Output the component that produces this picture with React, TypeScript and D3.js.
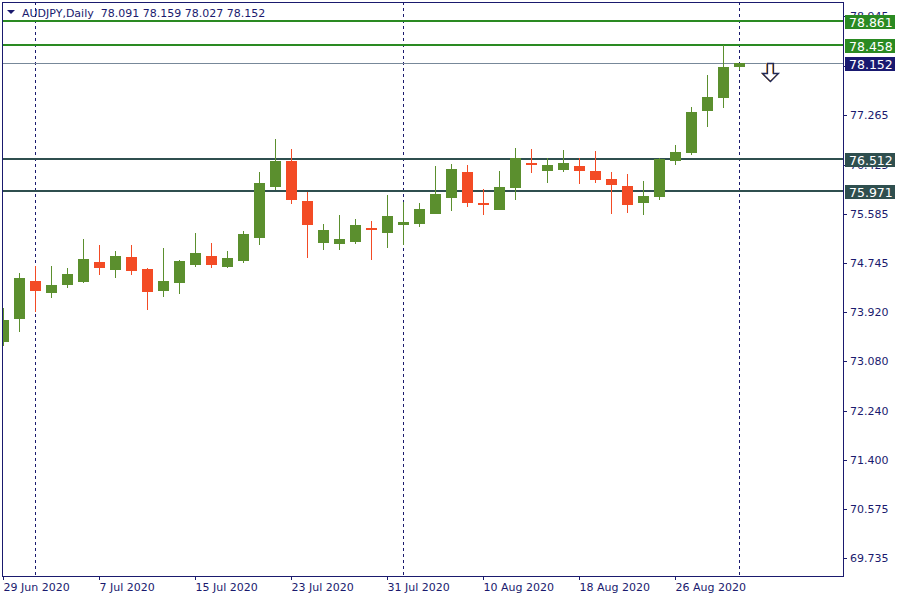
import React from "react";
import * as d3 from "d3";

const opens = [73.41,73.80,74.45,74.25,74.38,74.43,74.77,74.64,74.85,74.65,74.28,74.42,74.72,74.87,74.69,74.79,75.18,76.05,76.49,75.81,75.10,75.08,75.11,75.34,75.27,75.39,75.42,75.59,75.86,76.30,75.77,75.66,76.02,76.45,76.32,76.34,76.40,76.32,76.18,76.06,75.78,75.88,76.49,76.63,77.34,77.56,78.091];
const highs = [73.99,74.58,74.70,74.70,74.67,75.16,75.06,74.96,75.06,74.67,75.01,74.80,75.26,75.09,74.96,75.30,76.30,76.86,76.69,75.96,75.42,75.57,75.50,75.47,75.91,75.79,75.77,76.40,76.44,76.42,76.01,76.32,76.71,76.69,76.54,76.67,76.54,76.66,76.30,76.27,76.15,76.54,76.76,77.40,77.95,78.458,78.159];
const lows = [73.34,73.58,73.91,74.16,74.32,74.41,74.54,74.49,74.55,73.96,74.18,74.23,74.69,74.67,74.67,74.76,75.06,76.00,75.76,74.84,74.98,74.98,75.08,74.81,75.00,75.06,75.37,75.58,75.64,75.71,75.57,75.65,75.83,76.29,76.12,76.30,76.10,76.12,75.59,75.61,75.56,75.83,76.41,76.58,77.07,77.38,78.027];
const closes = [73.78,74.50,74.28,74.38,74.57,74.82,74.66,74.87,74.62,74.26,74.45,74.79,74.92,74.72,74.84,75.25,76.11,76.49,75.83,75.39,75.31,75.16,75.40,75.32,75.55,75.45,75.67,75.93,76.35,75.78,75.73,76.04,76.54,76.41,76.42,76.45,76.32,76.17,76.07,75.74,75.89,76.52,76.64,77.32,77.58,78.091,78.152];

const xTickIndex = [0, 6, 12, 18, 24, 30, 36, 42];
const xTickLabels = ["29 Jun 2020","7 Jul 2020","15 Jul 2020","23 Jul 2020","31 Jul 2020","10 Aug 2020","18 Aug 2020","26 Aug 2020"];
const separatorIndex = [2, 25, 46];
const yTicks = [69.735,70.575,71.400,72.240,73.080,73.920,74.745,75.585,76.425,77.265,78.105,78.945];
const levelValues = [78.861, 78.458, 78.152, 76.512, 75.971];
const levelLabels = ["78.861", "78.458", "78.152", "76.512", "75.971"];
const levelKinds = ["resist", "resist", "price", "support", "support"];
const title = "AUDJPY,Daily  78.091 78.159 78.027 78.152";

const LEFT = 2, RIGHT = 843, TOP = 2, BOTTOM = 576;
const NAVY = "#1a1a6e";
const BULL = "#5b8f2e";
const BEAR = "#f34b25";
const FONT = "'DejaVu Sans', Verdana, sans-serif";

const kindStyle: Record<string, { line: string; width: number; box: string }> = {
  resist: { line: "#2a8a22", width: 2, box: "#2a8a22" },
  price: { line: "#778899", width: 1, box: "#191970" },
  support: { line: "#2f4f4f", width: 2, box: "#2f4f4f" },
};

export default function App() {
  const y = d3.scaleLinear().domain([69.735, 75.585]).range([558, 214]);
  const x = d3.scaleLinear().domain([0, 46]).range([3.5, 739.5]);
  const arrow = "M767.5,63.5 L773.5,63.5 L773.5,73.5 L778.5,73.5 L770.5,81.5 L762.5,73.5 L767.5,73.5 Z";

  return (
    <svg width={900} height={600} style={{ position: "absolute", left: 0, top: 0, background: "#fff" }} fontFamily={FONT}>
      <defs>
        <clipPath id="plot">
          <rect x={LEFT + 1} y={TOP + 1} width={RIGHT - LEFT - 1} height={BOTTOM - TOP - 1} />
        </clipPath>
      </defs>
      <rect x={0} y={0} width={900} height={600} fill="#fff" />

      <g clipPath="url(#plot)">
        {separatorIndex.map((i) => (
          <line key={"s" + i} x1={Math.floor(x(i)) + 0.5} x2={Math.floor(x(i)) + 0.5} y1={TOP} y2={BOTTOM} stroke={NAVY} strokeDasharray="3,3" strokeWidth={1} />
        ))}
        {levelValues.map((v, k) => {
          const st = kindStyle[levelKinds[k]];
          const yy = st.width === 1 ? Math.round(y(v)) + 0.5 : Math.round(y(v));
          return <line key={"l" + k} x1={LEFT} x2={RIGHT} y1={yy} y2={yy} stroke={st.line} strokeWidth={st.width} />;
        })}
        {opens.map((o, i) => {
          const c = closes[i];
          const col = c >= o ? BULL : BEAR;
          const cx = Math.floor(x(i));
          const top = Math.round(y(Math.max(o, c)));
          const bot = Math.round(y(Math.min(o, c)));
          return (
            <g key={"c" + i}>
              <rect x={cx} y={Math.round(y(highs[i]))} width={1} height={Math.max(1, Math.round(y(lows[i])) - Math.round(y(highs[i])))} fill={col} />
              <rect x={cx - 5} y={top} width={11} height={Math.max(2, bot - top)} fill={col} />
            </g>
          );
        })}
      </g>

      <rect x={LEFT + 0.5} y={TOP + 0.5} width={RIGHT - LEFT} height={BOTTOM - TOP} fill="none" stroke={NAVY} strokeWidth={1} />

      <path d="M7,10 L15,10 L11,14 Z" fill={NAVY} />
      <text x={22} y={17} fontSize={11} fill={NAVY} style={{ whiteSpace: "pre" }}>{title}</text>

      {yTicks.map((v) => (
        <g key={"y" + v}>
          <line x1={RIGHT} x2={RIGHT + 4} y1={Math.round(y(v)) + 0.5} y2={Math.round(y(v)) + 0.5} stroke={NAVY} />
          <text x={850} y={y(v) + 4} fontSize={11} fill={NAVY}>{v.toFixed(3)}</text>
        </g>
      ))}

      {levelValues.map((v, k) => {
        const st = kindStyle[levelKinds[k]];
        const yy = Math.round(y(v));
        return (
          <g key={"lb" + k}>
            <rect x={845} y={yy - 6} width={50} height={14} fill={st.box} />
            <text x={849} y={yy + 5.5} fontSize={12.5} fill="#ffffff">{levelLabels[k]}</text>
          </g>
        );
      })}

      {xTickIndex.map((i, k) => (
        <g key={"x" + i}>
          <line x1={Math.floor(x(i)) + 0.5} x2={Math.floor(x(i)) + 0.5} y1={BOTTOM} y2={BOTTOM + 4} stroke={NAVY} />
          <text x={Math.floor(x(i)) + 0.5} y={591} fontSize={11} fill={NAVY}>{xTickLabels[k]}</text>
        </g>
      ))}

      <path d={arrow} fill="#fff" stroke="#f0a040" strokeWidth={1} transform="translate(-1,0)" />
      <path d={arrow} fill="none" stroke="#1f2a5a" strokeWidth={1.3} />
    </svg>
  );
}
